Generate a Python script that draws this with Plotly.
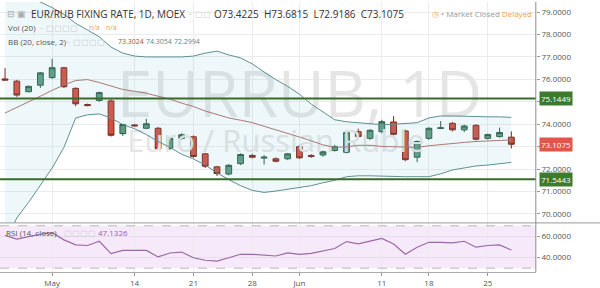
import plotly.graph_objects as go

# ---------------- data ----------------
dates = ["2018-04-25", "2018-04-26", "2018-04-27", "2018-04-28", "2018-05-02", "2018-05-03",
         "2018-05-04", "2018-05-07", "2018-05-08", "2018-05-10", "2018-05-11", "2018-05-14",
         "2018-05-15", "2018-05-16", "2018-05-17", "2018-05-18", "2018-05-21", "2018-05-22",
         "2018-05-23", "2018-05-24", "2018-05-25", "2018-05-28", "2018-05-29", "2018-05-30",
         "2018-05-31", "2018-06-01", "2018-06-04", "2018-06-05", "2018-06-06", "2018-06-07",
         "2018-06-08", "2018-06-09", "2018-06-11", "2018-06-13", "2018-06-14", "2018-06-15",
         "2018-06-18", "2018-06-19", "2018-06-20", "2018-06-21", "2018-06-22", "2018-06-25",
         "2018-06-26", "2018-06-27"]

opens = [76.02, 75.92, 75.45, 75.74, 76.08, 76.52, 75.60, 74.88, 75.06, 75.04, 73.58, 73.97,
         73.82, 73.82, 72.93, 73.37, 73.44, 72.68, 72.10, 71.78, 72.24, 72.61, 72.49, 72.46,
         72.46, 73.00, 72.61, 72.63, 72.83, 72.75, 73.67, 73.37, 73.67, 74.10, 73.70, 72.53,
         73.37, 73.81, 74.04, 73.75, 73.95, 73.37, 73.45, 73.4225]
highs = [76.50, 75.98, 75.72, 76.32, 76.92, 76.56, 75.64, 74.92, 75.45, 75.12, 74.02, 74.00,
         74.24, 73.88, 73.42, 73.60, 73.50, 72.72, 72.14, 72.22, 72.70, 72.68, 72.62, 72.52,
         72.72, 73.08, 72.66, 72.82, 73.08, 73.68, 73.80, 73.78, 74.20, 74.36, 73.75, 73.28,
         73.86, 74.14, 74.10, 73.98, 74.00, 73.58, 73.85, 73.6815]
lows = [75.95, 75.22, 75.42, 75.62, 76.02, 75.62, 74.80, 74.80, 75.00, 73.45, 73.48, 73.90,
        73.78, 72.85, 72.85, 73.30, 72.50, 72.05, 71.69, 71.72, 72.18, 72.48, 72.20, 72.30,
        72.40, 72.45, 72.50, 72.55, 72.78, 72.70, 73.40, 73.30, 73.60, 73.50, 72.35, 72.31,
        73.30, 73.78, 73.68, 73.65, 73.28, 73.32, 73.40, 72.9186]
closes = [75.97, 75.30, 75.69, 76.29, 76.52, 75.67, 74.91, 74.83, 75.41, 73.51, 73.99, 73.93,
          74.02, 72.90, 73.38, 73.53, 72.56, 72.13, 71.80, 72.17, 72.65, 72.53, 72.53, 72.35,
          72.68, 72.50, 72.56, 72.77, 73.00, 73.63, 73.45, 73.73, 74.11, 73.55, 72.42, 73.23,
          73.82, 73.84, 73.75, 73.92, 73.33, 73.54, 73.63, 73.1075]

bb_mid = [74.50, 74.74, 74.98, 75.25, 75.51, 75.75, 75.95, 75.99, 75.86, 75.71, 75.55, 75.47,
          75.38, 75.25, 75.12, 74.94, 74.79, 74.59, 74.42, 74.28, 74.18, 74.07, 73.91, 73.76,
          73.58, 73.43, 73.26, 73.08, 72.97, 72.99, 73.06, 73.06, 73.01, 72.99, 72.97, 72.97,
          73.04, 73.10, 73.15, 73.19, 73.23, 73.26, 73.28, 73.3024]
bb_upper = [80.40, 79.95, 79.70, 79.45, 79.20, 78.90, 78.50, 78.20, 77.90, 77.44, 77.17, 77.04,
            77.00, 77.00, 77.00, 77.00, 77.04, 77.17, 77.26, 77.09, 76.96, 76.69, 76.33, 75.99,
            75.69, 75.34, 74.90, 74.55, 74.20, 74.11, 74.07, 74.02, 73.98, 74.00, 74.02, 74.07,
            74.28, 74.37, 74.37, 74.35, 74.33, 74.33, 74.33, 74.3054]
bb_lower = [68.80, 69.82, 70.52, 71.26, 72.05, 72.97, 74.28, 74.42, 74.46, 74.28, 73.98, 73.80,
            73.54, 73.23, 72.97, 72.66, 72.45, 72.18, 71.83, 71.53, 71.26, 71.05, 70.96, 71.02,
            71.09, 71.18, 71.26, 71.39, 71.50, 71.66, 71.70, 71.70, 71.68, 71.66, 71.66, 71.66,
            71.66, 71.79, 71.96, 72.05, 72.14, 72.18, 72.25, 72.2994]

rsi = [61.0, 57.5, 59.7, 62.0, 63.5, 56.7, 52.0, 51.4, 55.4, 43.7, 46.8, 46.8, 46.8, 40.6,
       44.3, 45.2, 39.8, 37.5, 36.6, 39.8, 43.1, 43.1, 42.6, 41.5, 44.4, 43.1, 44.0, 46.3,
       48.6, 55.1, 53.0, 55.6, 58.1, 52.8, 43.1, 49.8, 54.4, 54.4, 53.9, 55.4, 49.8, 51.4,
       51.9, 47.1326]

tick_dates = ["2018-05-02", "2018-05-14", "2018-05-21", "2018-05-28", "2018-06-01",
              "2018-06-11", "2018-06-18", "2018-06-25"]
tick_labels = ["May", "14", "21", "28", "Jun", "11", "18", "25"]

price_ticks = [70, 71, 72, 73, 74, 75, 76, 77, 78, 79]
price_labels = ["70.0000", "71.0000", "72.0000", "", "74.0000", "", "76.0000", "77.0000",
                "78.0000", "79.0000"]
rsi_ticks = [40, 60]
rsi_labels = ["40.0000", "60.0000"]

level_high = 75.1449
level_low = 71.5443
last_close = 73.1075
bb_last = [73.3024, 74.3054, 72.2994]
rsi_last = 47.1326

# ---------------- styling ----------------
FONT = "Open Sans"
UP_FILL, UP_LINE = "#5c9c80", "#2c5a45"
DN_FILL, DN_LINE = "#d4503e", "#7a2418"
BAND_LINE = "#5f8f93"
MID_LINE = "#a87a74"
LEVEL = "#386b27"
GRID = "#ececec"
AXTXT = "#555555"

PLOT_W = 567.0
XDOM = PLOT_W / 600.0
SPLIT = 0.1818

def px(xpix):
    return xpix / PLOT_W

fig = go.Figure()

# watermark (drawn first so it sits behind everything)
fig.add_trace(go.Scatter(x=[dates[25]], y=[75.05], mode="text", text=["EURRUB, 1D"],
                         textfont=dict(family=FONT, size=64, color="#e5e5e5"),
                         hoverinfo="skip", showlegend=False, xaxis="x", yaxis="y"))
fig.add_trace(go.Scatter(x=[dates[23]], y=[73.12], mode="text", text=["Euro / Russian Ruble"],
                         textfont=dict(family=FONT, size=31, color="#e5e5e5"),
                         hoverinfo="skip", showlegend=False, xaxis="x", yaxis="y"))

# Bollinger bands
fig.add_trace(go.Scatter(x=dates, y=bb_upper, mode="lines", line=dict(color=BAND_LINE, width=1),
                         hoverinfo="skip", showlegend=False, xaxis="x", yaxis="y"))
fig.add_trace(go.Scatter(x=dates, y=bb_lower, mode="lines", line=dict(color=BAND_LINE, width=1),
                         fill="tonexty", fillcolor="rgba(120,190,205,0.13)",
                         hoverinfo="skip", showlegend=False, xaxis="x", yaxis="y"))
fig.add_trace(go.Scatter(x=dates, y=bb_mid, mode="lines", line=dict(color=MID_LINE, width=1),
                         hoverinfo="skip", showlegend=False, xaxis="x", yaxis="y"))

# candles
fig.add_trace(go.Candlestick(x=dates, open=opens, high=highs, low=lows, close=closes,
                             increasing=dict(fillcolor=UP_FILL, line=dict(color=UP_LINE, width=1)),
                             decreasing=dict(fillcolor=DN_FILL, line=dict(color=DN_LINE, width=1)),
                             whiskerwidth=0, showlegend=False, xaxis="x", yaxis="y"))

# RSI
fig.add_trace(go.Scatter(x=dates, y=rsi, mode="lines", line=dict(color="#9b6aa6", width=1.2),
                         hoverinfo="skip", showlegend=False, xaxis="x", yaxis="y2"))

shapes = [
    dict(type="rect", xref="paper", x0=0, x1=XDOM, yref="y2", y0=30, y1=70,
         fillcolor="#f6e9fa", line=dict(width=0), layer="below"),
    dict(type="line", xref="paper", x0=0, x1=XDOM, yref="y2", y0=70, y1=70,
         line=dict(color="#b9b9b9", width=1, dash="dash")),
    dict(type="line", xref="paper", x0=0, x1=XDOM, yref="y2", y0=30, y1=30,
         line=dict(color="#b9b9b9", width=1, dash="dash")),
    dict(type="line", xref="paper", x0=0, x1=XDOM, yref="y", y0=level_high, y1=level_high,
         line=dict(color=LEVEL, width=2)),
    dict(type="line", xref="paper", x0=0, x1=XDOM, yref="y", y0=level_low, y1=level_low,
         line=dict(color=LEVEL, width=2)),
    dict(type="line", xref="paper", x0=0, x1=1.06, yref="paper", y0=SPLIT, y1=SPLIT,
         line=dict(color="#9a9a9a", width=1)),
    dict(type="line", xref="paper", x0=XDOM, x1=XDOM, yref="paper", y0=0, y1=1,
         line=dict(color="#8c8c8c", width=1)),
]

def tag(y, text, color, yref="y"):
    return dict(xref="paper", x=XDOM, xanchor="left", xshift=3, yref=yref, y=y,
                yanchor="middle", text=text, showarrow=False, bgcolor=color,
                font=dict(family=FONT, size=8, color="white"), borderpad=1)

def label(xpix, y, text, color, size=8):
    return dict(xref="paper", yref="paper", x=px(xpix), y=y, xanchor="left",
                yanchor="middle", showarrow=False, text=text,
                font=dict(family=FONT, size=size, color=color))

Y1, Y2, Y3 = 0.956, 0.905, 0.855
annotations = [
    tag(level_high, f"{level_high:.4f}", "#3e7a2c"),
    tag(level_low, f"{level_low:.4f}", "#3e7a2c"),
    tag(last_close, f"{last_close:.4f}", "#e0574a"),
    # header row
    label(5, Y1, "⊟ ▣", "#aaaaaa", 9),
    label(29, Y1, "EUR/RUB FIXING RATE, 1D, MOEX", "#333333", 10),
    label(186, Y1, "~ ▢▢", "#cccccc", 8),
    label(212, Y1, f"O{opens[-1]:.4f}  H{highs[-1]:.4f}  L{lows[-1]:.4f}  C{closes[-1]:.4f}",
          "#333333", 10),
    # Vol row
    label(6, Y2, "Vol (20)", "#555555", 8),
    label(37, Y2, "~ ▢▢▢▢", "#cccccc", 8),
    label(87, Y2, "n/a", "#e9a15a", 7),
    label(104, Y2, "n/a", "#e9a15a", 7),
    # BB row
    label(6, Y3, "BB (20, close, 2)", "#555555", 8),
    label(64, Y3, "~ ▢▢▢▢", "#cccccc", 8),
    label(116, Y3, f"{bb_last[0]:.4f}", "#a0524c", 7),
    label(144, Y3, f"{bb_last[1]:.4f}", "#4f8a90", 7),
    label(172, Y3, f"{bb_last[2]:.4f}", "#4f8a90", 7),
    # market status
    dict(xref="paper", yref="paper", x=XDOM - 0.003, y=Y1, xanchor="right", yanchor="middle",
         showarrow=False,
         text=("<span style='color:#f0a050'>◷</span> <span style='color:#999'>• Market Closed</span> "
               "<span style='color:#f0a050'>Delayed</span>"),
         font=dict(family=FONT, size=8)),
    # RSI row
    label(4, 0.145, "RSI (14, close)", "#555555", 8),
    label(62, 0.145, "▢▢▢▢", "#cccccc", 8),
    label(96, 0.145, f"{rsi_last:.4f}", "#9b5fa8", 8),
]

fig.update_layout(
    width=600, height=288,
    margin=dict(l=0, r=33, t=2, b=11),
    paper_bgcolor="white", plot_bgcolor="white",
    showlegend=False,
    xaxis=dict(type="category", categoryorder="array", categoryarray=dates,
               domain=[0, XDOM], anchor="y2", range=[-0.43, 45.08],
               rangeslider=dict(visible=False), tickmode="array", tickvals=tick_dates,
               ticktext=tick_labels, showgrid=True, gridcolor=GRID, gridwidth=1,
               ticks="outside", ticklen=3, tickcolor="#999", showline=True,
               linecolor="#aaaaaa", tickfont=dict(family=FONT, size=8, color=AXTXT),
               zeroline=False),
    yaxis=dict(domain=[SPLIT, 1], anchor="x", side="right", range=[69.60, 79.45],
               tickmode="array", tickvals=price_ticks, ticktext=price_labels,
               showgrid=True, gridcolor=GRID, ticks="outside", ticklen=3, tickcolor="#999",
               tickfont=dict(family=FONT, size=8, color=AXTXT), zeroline=False),
    yaxis2=dict(domain=[0, SPLIT], anchor="x", side="right", range=[26.4, 72.7],
                tickmode="array", tickvals=rsi_ticks, ticktext=rsi_labels,
                showgrid=True, gridcolor="#e6dcea", ticks="outside", ticklen=3, tickcolor="#999",
                tickfont=dict(family=FONT, size=8, color=AXTXT), zeroline=False),
    shapes=shapes,
    annotations=annotations,
)

fig.write_html("out.html")
